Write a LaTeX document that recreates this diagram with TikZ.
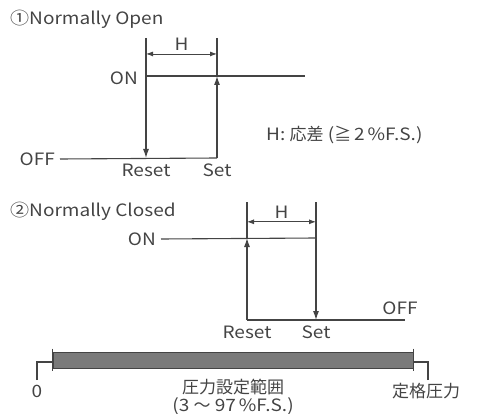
\documentclass[tikz,border=0pt]{standalone}
\usepackage{fontspec}
\setmainfont{Noto Sans CJK JP}[FakeStretch=1.12]
\newfontfamily\jp{Noto Sans CJK JP}
\usetikzlibrary{calc,positioning,arrows.meta}

\definecolor{linegray}{RGB}{68,68,68}
\definecolor{bargray}{RGB}{122,122,122}

\tikzset{
	wire/.style={draw=linegray, line width=1.1pt},
	flow/.style={wire, -{Latex[length=9pt,width=6pt]}},
	span/.style={wire, line width=0.9pt, {Latex[length=7pt,width=5pt]}-{Latex[length=7pt,width=5pt]}},
	lbl/.style={text=linegray, inner sep=2pt}
}

\begin{document}
\begin{tikzpicture}[x=1pt,y=-1pt,font=\fontsize{17}{19}\selectfont]
		\useasboundingbox (0,0) rectangle (481,414);

		% (1) normally open
		\node[lbl,anchor=west] (noTitle) at (8,19) {①Normally Open};
		\coordinate (noRtop) at (146,38);
		\coordinate (noStop) at (217,38);
		\coordinate (noRon) at (146,76);
		\coordinate (noSon) at (217,76);
		\coordinate (noRoff) at (146,158);
		\coordinate (noSoff) at (217,158);
		\coordinate (noEnd) at (305,76);
		\node[lbl,anchor=east] (noOn) at (140,78) {ON};
		\node[lbl,anchor=east,inner xsep=5pt] (noOff) at (60,159) {OFF};

		\draw[wire] (noRtop) -- (noRon);
		\draw[wire] (noStop) -- (noSon);
		\draw[span] ($(noRtop)!.42!(noRon)$) -- node[lbl,above=1pt] (noH) {H} ($(noStop)!.42!(noSon)$);
		\draw[wire] (noRon) -- (noEnd);
		\draw[flow] (noRon) -- (noRoff);
		\draw[wire] (noOff.east) -- (noSoff);
		\draw[flow] (noSoff) -- (noSon);
		\node[lbl,below=4pt of noRoff] (noReset) {Reset};
		\node[lbl,below=4pt of noSoff] (noSet) {Set};

		\node[lbl,anchor=west] (hNote) at (264,135) {H: {\jp 応差} ({\jp ≧}\,2\,\%F.S.)};

		% (2) normally closed
		\node[lbl,anchor=west] (ncTitle) at (8,211) {②Normally Closed};
		\coordinate (ncRtop) at (247,202);
		\coordinate (ncStop) at (316,202);
		\coordinate (ncRon) at (247,238);
		\coordinate (ncSon) at (316,238);
		\coordinate (ncRoff) at (247,320);
		\coordinate (ncSoff) at (316,320);
		\coordinate (ncEnd) at (405,320);
		\node[lbl,anchor=east,inner xsep=5pt] (ncOn) at (161,239) {ON};
		\node[lbl] (ncOff) at (400,308) {OFF};

		\draw[wire] (ncRtop) -- (ncRon);
		\draw[wire] (ncStop) -- (ncSon);
		\draw[span] ($(ncRtop)!.55!(ncRon)$) -- node[lbl,above=1pt] (ncH) {H} ($(ncStop)!.55!(ncSon)$);
		\draw[wire] (ncOn.east) -- (ncSon);
		\draw[flow] (ncRoff) -- (ncRon);
		\draw[flow] (ncSon) -- (ncSoff);
		\draw[wire] (ncRoff) -- (ncEnd);
		\node[lbl,below=4pt of ncRoff] (ncReset) {Reset};
		\node[lbl,below=4pt of ncSoff] (ncSet) {Set};

		% setting range bar
		\coordinate (zeroTop) at (37,362);
		\coordinate (zeroBot) at (37,380);
		\coordinate (fullTop) at (428,362);
		\coordinate (fullBot) at (428,380);
		\node[draw=linegray, line width=0.8pt, fill=bargray, minimum width=360pt, minimum height=16pt, inner sep=0pt] (range) at (233,360) {};
		\draw[wire] ($(range.north west)+(0,-3)$) -- ($(range.south west)+(0,3)$);
		\draw[wire] ($(range.north east)+(0,-3)$) -- ($(range.south east)+(0,3)$);
		\draw[wire] (zeroBot) -- (zeroTop) -- (zeroTop -| range.west);
		\draw[wire] (fullBot) -- (fullTop) -- (fullTop -| range.east);
		\node[lbl] (zero) at (37,391) {0};
		\node[lbl] (rangeName) at (233,387) {\jp 圧力設定範囲};
		\node[lbl] (rangeVal) at (233,406) {(3 {\jp ～} 97\,\%F.S.)};
		\node[lbl] (rated) at (426,391) {\jp 定格圧力};
	\end{tikzpicture}
\end{document}
